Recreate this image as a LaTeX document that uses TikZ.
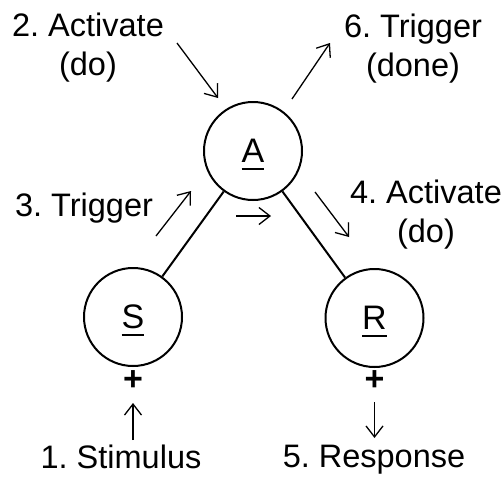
\documentclass[tikz,border=0pt]{standalone}
\usepackage{fontspec}
\setmainfont{Liberation Sans}
\usetikzlibrary{arrows.meta}
\frenchspacing
\newcommand\ulletter[1]{\setbox0\hbox{#1}\rlap{\copy0}\smash{\rule[-7.5pt]{\wd0}{2.2pt}}\hspace*{\wd0}}
\tikzset{
  state/.style={circle,draw,line width=2pt,minimum size=98pt,inner sep=0pt,
    font=\fontsize{34}{39}\selectfont},
  lbl/.style={anchor=north,inner sep=0pt,align=center,font=\fontsize{32.5}{39}\selectfont},
  plus/.style={inner sep=0pt,font=\fontsize{34}{39}\selectfont\bfseries},
  conn/.style={line width=2pt},
  arr/.style={line width=1.3pt,-{Straight Barb[length=11pt,width=17pt]}}
}
\begin{document}
\begin{tikzpicture}[x=1pt,y=-1pt]
\useasboundingbox[fill=white] (0,0) rectangle (503,479);
\node[state] (A) at (253,151) {\ulletter{A}};
\node[state] (S) at (133,317) {\ulletter{S}};
\node[state] (R) at (374.5,318) {\ulletter{R}};
\draw[conn] (S) -- (A);
\draw[conn] (A) -- (R);
\node[plus] (pS) at (133,381) {+};
\node[plus] (pR) at (374.5,381) {+};
\node[lbl] (l2) at (88,13) {2. Activate\\(do)};
\node[lbl] (l6) at (413,14) {6. Trigger\\(done)};
\node[lbl] (l3) at (84,193) {3. Trigger};
\node[lbl] (l4) at (426,180) {4. Activate\\(do)};
\node[lbl] (l1) at (121,445) {1. Stimulus};
\node[lbl] (l5) at (374,445) {5. Response};
\coordinate (a2s) at (177,43);  \coordinate (a2e) at (218,98);
\coordinate (a6s) at (292,99);  \coordinate (a6e) at (330,43);
\coordinate (a3s) at (156,236); \coordinate (a3e) at (191,191);
\coordinate (ams) at (236,216); \coordinate (ame) at (271,216);
\coordinate (a4s) at (315,192); \coordinate (a4e) at (349,237);
\coordinate (a1s) at (133,440); \coordinate (a1e) at (133,403);
\coordinate (a5s) at (374.5,402); \coordinate (a5e) at (374.5,438);
\draw[arr] (a2s) -- (a2e);
\draw[arr] (a6s) -- (a6e);
\draw[arr] (a3s) -- (a3e);
\draw[arr] (ams) -- (ame);
\draw[arr] (a4s) -- (a4e);
\draw[arr] (a1s) -- (a1e);
\draw[arr] (a5s) -- (a5e);
\end{tikzpicture}
\end{document}
